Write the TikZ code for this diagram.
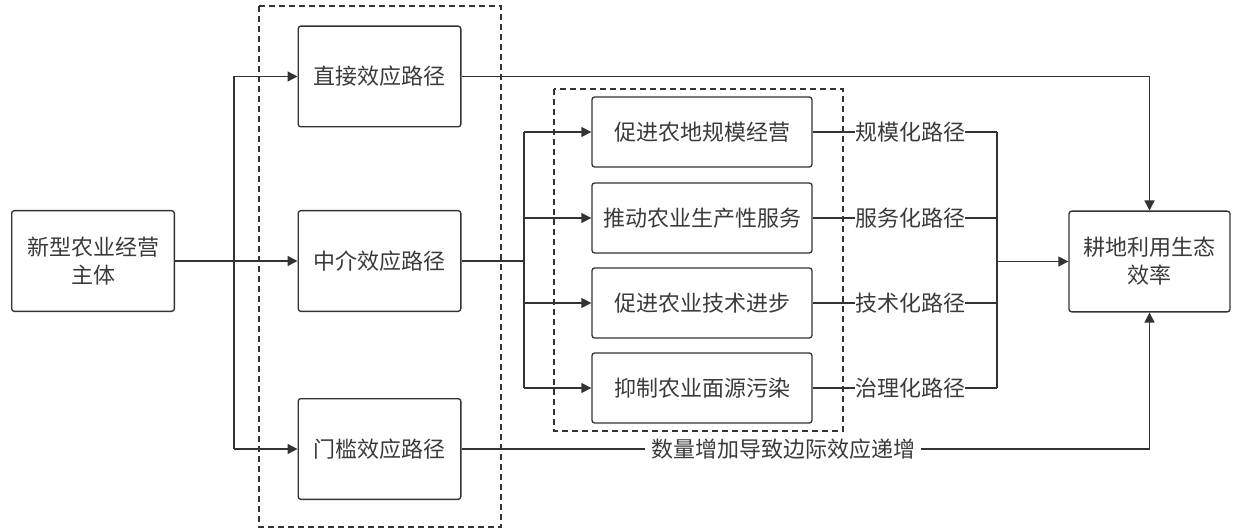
\documentclass[tikz,border=0pt]{standalone}
\usepackage{fontspec}
\newfontfamily\cjk{Noto Sans CJK SC}
\usetikzlibrary{arrows.meta}
\definecolor{ink}{HTML}{333333}
\definecolor{txt}{HTML}{3A3A3A}
\tikzset{
  box/.style={draw=ink, line width=1pt, rounded corners=2pt, align=center,
    text=txt, font=\cjk\fontsize{16.5pt}{21pt}\selectfont, inner sep=0pt},
  bigbox/.style={box, minimum width=122pt, minimum height=75.5pt},
  midbox/.style={box, minimum width=165pt, minimum height=52.5pt},
  lab/.style={text=txt, font=\cjk\fontsize{16.5pt}{21pt}\selectfont, inner sep=0pt},
  conn/.style={draw=ink, line width=1pt},
  arr/.style={conn, -{Triangle[length=7.5pt,width=7.5pt]}},
  dbox/.style={draw=ink, line width=0.9pt, dash pattern=on 4.5pt off 3pt},
}
\begin{document}
\begin{tikzpicture}[x=0.75pt, y=-0.75pt]
\useasboundingbox (0,0) rectangle (1239,531);
% dashed groups
\draw[dbox] (259,6) rectangle (501,527);
\draw[dbox] (554,89) rectangle (843,431);
% nodes
\node[bigbox] (main) at (93,261) {新型农业经营\\主体};
\node[bigbox] (zj) at (379.5,76.5) {直接效应路径};
\node[bigbox] (zm) at (379.5,261) {中介效应路径};
\node[bigbox] (mk) at (379.5,449) {门槛效应路径};
\node[midbox] (b1) at (702,132) {促进农地规模经营};
\node[midbox] (b2) at (702,218) {推动农业生产性服务};
\node[midbox] (b3) at (702,303) {促进农业技术进步};
\node[midbox] (b4) at (702,388) {抑制农业面源污染};
\node[bigbox, minimum width=120.75pt] (gd) at (1149.5,261.5) {耕地利用生态\\效率};
\node[lab] (l1) at (910,132) {规模化路径};
\node[lab] (l2) at (910,218) {服务化路径};
\node[lab] (l3) at (910,303) {技术化路径};
\node[lab] (l4) at (910,388) {治理化路径};
\node[lab, inner xsep=4.5pt] (lb) at (783,449) {数量增加导致边际效应递增};
\coordinate (xl) at (234,0);
\coordinate (xm) at (524,0);
\coordinate (xr) at (997,0);
% left branching
\draw[arr] (main.east) -- (zm.west);
\draw[conn] (zj.west -| xl) -- (mk.west -| xl);
\draw[arr] (zj.west -| xl) -- (zj.west);
\draw[arr] (mk.west -| xl) -- (mk.west);
% direct path
\draw[arr] (zj.east) -| (gd.north);
% threshold path
\draw[conn] (mk.east) -- (lb.west);
\draw[arr] (lb.east) -| (gd.south);
% mediation
\draw[conn] (zm.east) -- (zm.east -| xm);
\draw[conn] (b1.west -| xm) -- (b4.west -| xm);
\foreach \b in {b1,b2,b3,b4}{\draw[arr] (\b.west -| xm) -- (\b.west);}
\foreach \b/\l in {b1/l1,b2/l2,b3/l3,b4/l4}{
  \draw[conn] (\b.east) -- (\l.west);
  \draw[conn] (\l.east) -- (\l.east -| xr);
}
\draw[conn] (l1.east -| xr) -- (l4.east -| xr);
\draw[arr] (gd.west -| xr) -- (gd.west);
\end{tikzpicture}
\end{document}
